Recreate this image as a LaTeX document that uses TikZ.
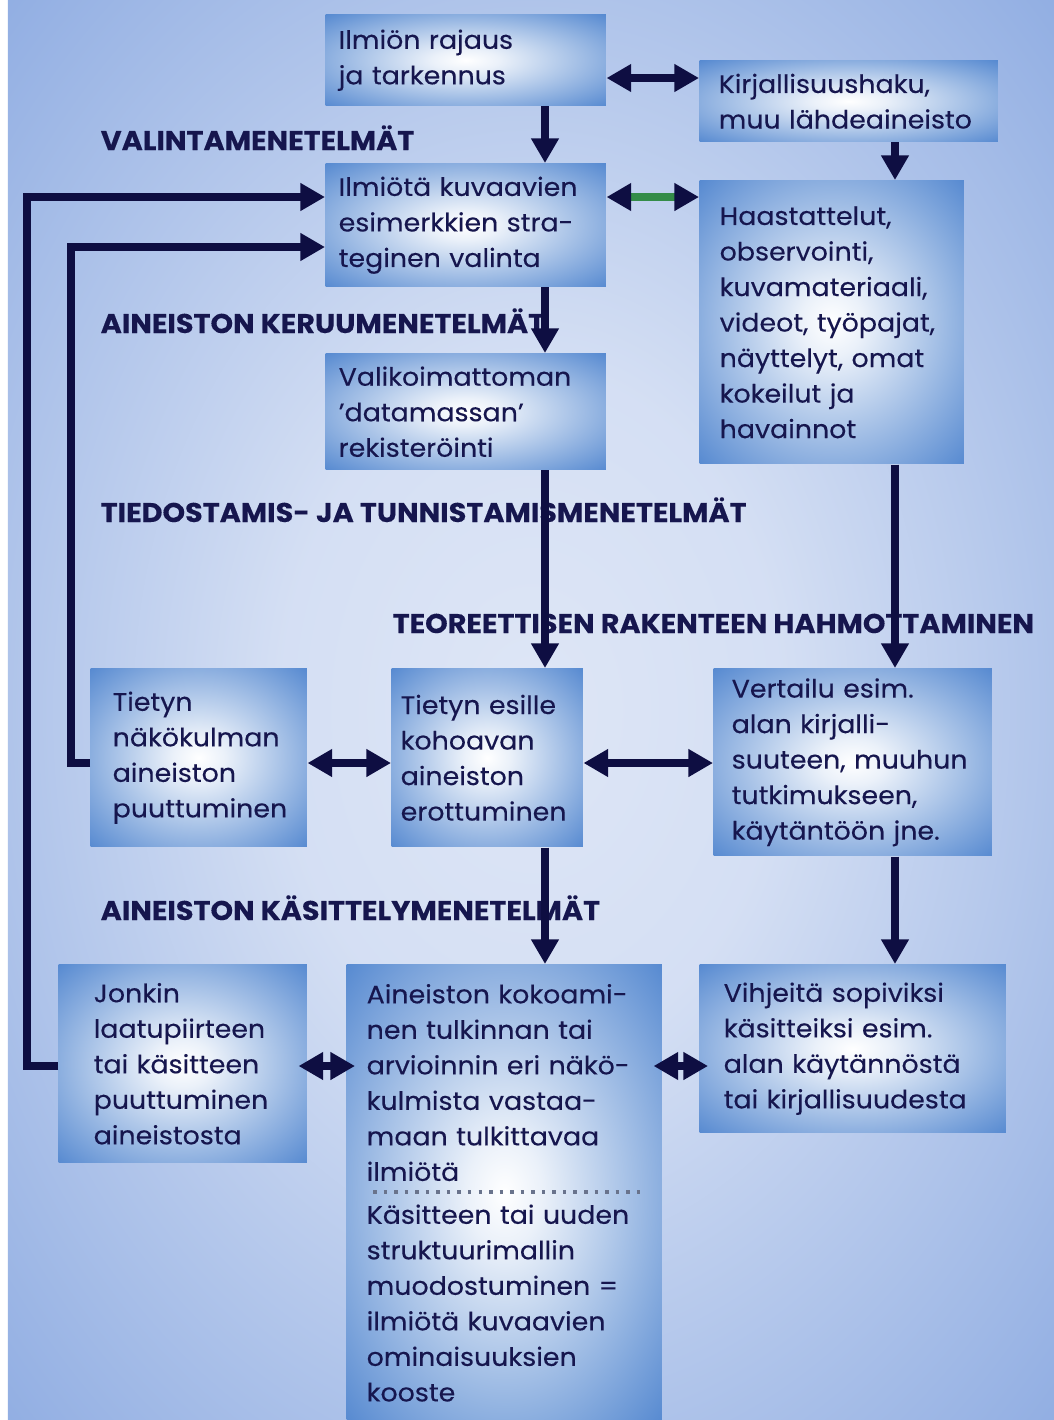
\documentclass[tikz,border=0pt]{standalone}
\usepackage{fontspec}
\setmainfont{Poppins}[FakeStretch=1.06, FakeBold=0.2]
\usepackage{xcolor}
\usepackage{tikz}
\usetikzlibrary{arrows.meta}

\definecolor{bgouter}{RGB}{104,144,216}
\definecolor{bginner}{RGB}{222,230,246}
\definecolor{boxblue}{RGB}{84,136,208}
\definecolor{textnavy}{RGB}{22,22,78}
\definecolor{arrownavy}{RGB}{14,14,66}
\definecolor{linkgreen}{RGB}{52,140,72}
\definecolor{sepgray}{RGB}{105,115,140}

\pgfdeclareradialshading{bgglow}{\pgfpoint{0bp}{0bp}}{color(0bp)=(bginner); color(12bp)=(bginner!92!bgouter); color(50bp)=(bgouter)}
\pgfdeclareradialshading{boxglow}{\pgfpoint{0bp}{0bp}}{color(0bp)=(white); color(6bp)=(white!88!boxblue); color(36bp)=(boxblue); color(50bp)=(boxblue)}

\newcommand{\boxfont}{\fontsize{7.2}{10.1}\selectfont}
\newcommand{\headfont}{\fontsize{7.7}{8}\selectfont\bfseries}

\tikzset{
  box/.style={anchor=north west, shade, shading=boxglow, align=left, inner sep=0pt, text=textnavy, font=\boxfont},
  head/.style={anchor=base west, inner sep=0pt, text=textnavy, font=\headfont},
  link/.style={line width=2pt, draw=arrownavy, -{Triangle[length=7pt,width=7.5pt]}},
  twoway/.style={line width=2pt, draw=arrownavy, {Triangle[length=7pt,width=7.5pt]}-{Triangle[length=7pt,width=7.5pt]}},
  greenway/.style={line width=2pt, draw=linkgreen, {Triangle[length=7pt,width=7.5pt,color=arrownavy]}-{Triangle[length=7pt,width=7.5pt,color=arrownavy]}},
  sepline/.style={draw=sepgray, line width=1pt, dotted}
}

\begin{document}
\begin{tikzpicture}[x=0.01cm, y=-0.01cm]
                \useasboundingbox (0,0) rectangle (1054,1420);

                %% background
                \fill[white] (0,0) rectangle (1054,1420);
                \shade[shading=bgglow] (8,0) rectangle (1054,1420);

                %% upper boxes
                \node[box, minimum width=2.80cm, minimum height=0.91cm, text width=2.54cm] (ilmio) at (325,14)
                    {Ilmiön rajaus\\ja tarkennus};
                \node[box, minimum width=2.98cm, minimum height=0.81cm, text width=2.60cm] (kirj) at (699,60)
                    {Kirjallisuushaku,\\muu lähdeaineisto};
                \node[box, minimum width=2.80cm, minimum height=1.23cm, text width=2.54cm] (strat) at (325,163)
                    {Ilmiötä kuvaavien\\esimerkkien stra-\\teginen valinta};
                \node[box, minimum width=2.64cm, minimum height=2.83cm, text width=2.24cm] (haast) at (699,180)
                    {Haastattelut,\\observointi,\\kuvamateriaali,\\videot, työpajat,\\näyttelyt, omat\\kokeilut ja\\havainnot};
                \node[box, minimum width=2.80cm, minimum height=1.16cm, text width=2.54cm] (valik) at (325,353)
                    {Valikoimattoman\\'datamassan'\\rekisteröinti};

                %% middle row
                \node[box, minimum width=2.16cm, minimum height=1.78cm, text width=1.72cm] (puutt) at (90,668)
                    {Tietyn\\näkökulman\\aineiston\\puuttuminen};
                \node[box, minimum width=1.91cm, minimum height=1.78cm, text width=1.73cm] (erott) at (391,668)
                    {Tietyn esille\\kohoavan\\aineiston\\erottuminen};
                \node[box, minimum width=2.78cm, minimum height=1.87cm, text width=2.42cm] (vert) at (713,668)
                    {Vertailu esim.\\alan kirjalli-\\suuteen, muuhun\\tutkimukseen,\\käytäntöön jne.};

                %% lower row
                \node[box, minimum width=2.48cm, minimum height=1.98cm, text width=1.78cm] (jonkin) at (58,964)
                    {Jonkin\\laatupiirteen\\tai käsitteen\\puuttuminen\\aineistosta};
                \node[box, minimum width=3.15cm, minimum height=4.56cm, text width=2.75cm] (kokoa) at (346,964)
                    {Aineiston kokoami-\\nen tulkinnan tai\\arvioinnin eri näkö-\\kulmista vastaa-\\maan tulkittavaa\\ilmiötä\\[2.1pt]
                     Käsitteen tai uuden\\struktuurimallin\\muodostuminen =\\ilmiötä kuvaavien\\ominaisuuksien\\kooste};
                \node[box, minimum width=3.06cm, minimum height=1.68cm, text width=2.58cm] (vihj) at (699,964)
                    {Vihjeitä sopiviksi\\käsitteiksi esim.\\alan käytännöstä\\tai kirjallisuudesta};
                \draw[sepline] (373,1192) -- (645,1192);

                %% headings
                \node[head] (valhead) at (100,150) {VALINTAMENETELMÄT};
                \node[head] (kerhead) at (100,333) {AINEISTON KERUUMENETELMÄT};
                \node[head] (tiehead) at (100,522) {TIEDOSTAMIS- JA TUNNISTAMISMENETELMÄT};
                \node[head] (teohead) at (392,633) {TEOREETTISEN RAKENTEEN HAHMOTTAMINEN};
                \node[head] (kashead) at (100,920) {AINEISTON KÄSITTELYMENETELMÄT};

                %% arrows down
                \draw[link] (ilmio.south -| 545,0) -- (strat.north -| 545,0);
                \draw[link] (strat.south -| 545,0) -- (valik.north -| 545,0);
                \draw[link] (valik.south -| 545,0) -- (erott.north -| 545,0);
                \draw[link] (erott.south -| 545,0) -- (kokoa.north -| 545,0);
                \draw[link] (kirj.south -| 895,0) -- (haast.north -| 895,0);
                \draw[link] (haast.south -| 895,0) -- (vert.north -| 895,0);
                \draw[link] (vert.south -| 895,0) -- (vihj.north -| 895,0);

                %% arrows across
                \draw[twoway] (ilmio.east |- 0,78) -- (kirj.west |- 0,78);
                \draw[greenway] (strat.east |- 0,197) -- (haast.west |- 0,197);
                \draw[twoway] (puutt.east |- 0,763) -- (erott.west |- 0,763);
                \draw[twoway] (erott.east |- 0,763) -- (vert.west |- 0,763);
                \draw[twoway, shorten <=-0.09cm, shorten >=-0.09cm] (jonkin.east |- 0,1066) -- (kokoa.west |- 0,1066);
                \draw[twoway, shorten <=-0.09cm, shorten >=-0.09cm] (kokoa.east |- 0,1066) -- (vihj.west |- 0,1066);

                %% back loops
                \draw[link] (puutt.west |- 0,763) -- (71,763) |- (strat.west |- 0,247);
                \draw[link] (jonkin.west |- 0,1066) -- (27,1066) |- (strat.west |- 0,197);

            \end{tikzpicture}
\end{document}
